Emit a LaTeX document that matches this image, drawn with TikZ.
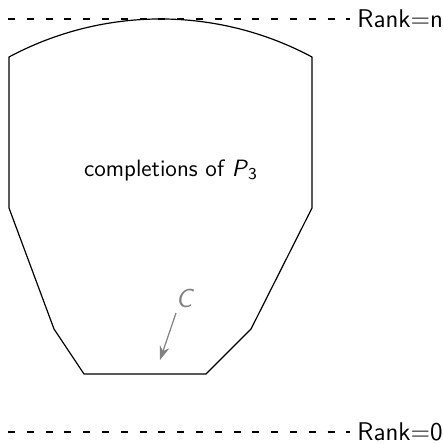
\documentclass[tikz,border=0pt]{standalone}
\usetikzlibrary{arrows.meta}
\renewcommand{\familydefault}{\sfdefault}
\begin{document}
\begin{tikzpicture}[x=0.5pt,y=-0.5pt,
  rankline/.style={line width=0.65pt, dash pattern=on 3.5pt off 5.9pt},
  ranklabel/.style={anchor=west, inner sep=0pt, font=\fontsize{12.8}{15}\selectfont},
  outline/.style={line width=0.6pt, line join=round},
  callout/.style={draw=gray, line width=0.6pt, -{Stealth[length=7pt,width=5pt]}},
  shade/.style={text=gray}]
\useasboundingbox (0,0) rectangle (443,444);
% rank lines
\coordinate (tl) at (8,19);
\coordinate (tr) at (350,19);
\coordinate (bl) at (8,432);
\coordinate (br) at (350,432);
\draw[rankline] (tl) -- (tr);
\draw[rankline] (bl) -- (br);
\node[ranklabel] (rn) at (357,19) {Rank=n};
\node[ranklabel] (r0) at (357,432) {Rank=0};
% outline
\coordinate (a) at (9,57);
\coordinate (b) at (312,57);
\coordinate (c) at (312,208);
\coordinate (d) at (251,329);
\coordinate (e) at (206,374);
\coordinate (f) at (84,374);
\coordinate (g) at (54,329);
\coordinate (h) at (9,208);
\draw[outline] (a) .. controls (103.8,6.3) and (217.2,6.3) .. (b)
  -- (c) -- (d) -- (e) -- (f) -- (g) -- (h) -- cycle;
\node[font=\fontsize{11.8}{14}\selectfont] (lab) at (171,170) {completions of \textit{P}\textsubscript{3}};
\node[shade, inner sep=1pt, font=\fontsize{13}{15}\selectfont\itshape] (cc) at (184,298) {C};
\coordinate (cs) at (176,313);
\coordinate (tip) at (160,360);
\draw[callout] (cs) -- (tip);
\end{tikzpicture}
\end{document}
